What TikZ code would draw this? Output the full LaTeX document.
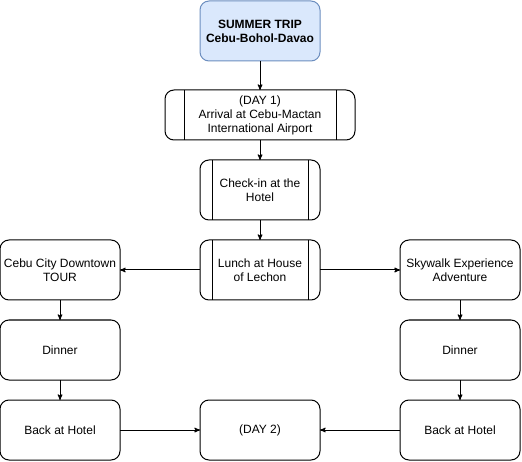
\documentclass[tikz,border=0pt]{standalone}
\usepackage{fontspec}
\setmainfont{Liberation Sans}
\usetikzlibrary{arrows,positioning}

\definecolor{tripfill}{HTML}{DAE8FC}
\definecolor{tripline}{HTML}{6C8EBF}

\tikzset{
  box/.style={draw, rounded corners=9pt, line width=1pt, outer sep=0pt,
    minimum width=120pt, minimum height=60pt, align=center, inner sep=2pt,
    font=\fontsize{12}{14}\selectfont},
  tripbox/.style={box, fill=tripfill, draw=tripline,
    font=\fontsize{12}{14}\selectfont\bfseries},
  procbox/.style={box, path picture={
    \draw[-,sharp corners,line width=1pt]
      ([xshift=#1]path picture bounding box.north west) --
      ([xshift=#1]path picture bounding box.south west)
      ([xshift=-#1]path picture bounding box.north east) --
      ([xshift=-#1]path picture bounding box.south east);}},
  procbox/.default=12pt
}

\begin{document}
\begin{tikzpicture}[x=1pt,y=1pt,->,>=stealth',line width=1pt]

\useasboundingbox (0,0) rectangle (522,-462);

\node[tripbox] (trip) at (260,-31) {SUMMER TRIP\\Cebu-Bohol-Davao};
\node[procbox=19pt,minimum width=190pt,minimum height=50pt] (day1) [below=29pt of trip]
  {(DAY 1)\\Arrival at Cebu-Mactan\\International Airport};
\node[procbox] (checkin) [below=20pt of day1] {Check-in at the\\Hotel};
\node[procbox] (lunch) [below=20pt of checkin] {Lunch at House\\of Lechon};
\node[box] (downtown) [left=80pt of lunch] {Cebu City Downtown\\TOUR};
\node[box] (skywalk) [right=80pt of lunch] {Skywalk Experience\\Adventure};
\node[box] (dinnerL) [below=20pt of downtown] {Dinner};
\node[box] (hotelL) [below=20pt of dinnerL] {Back at Hotel};
\node[box] (dinnerR) [below=20pt of skywalk] {Dinner};
\node[box] (hotelR) [below=20pt of dinnerR] {Back at Hotel};
\node[box] (day2) [below=100pt of lunch] {(DAY 2)};

\draw (trip) -- (day1);
\draw (day1) -- (checkin);
\draw (checkin) -- (lunch);
\draw (lunch) -- (downtown);
\draw (lunch) -- (skywalk);
\draw (downtown) -- (dinnerL);
\draw (dinnerL) -- (hotelL);
\draw (skywalk) -- (dinnerR);
\draw (dinnerR) -- (hotelR);
\draw (hotelL) -- (day2);
\draw (hotelR) -- (day2);

\end{tikzpicture}
\end{document}
